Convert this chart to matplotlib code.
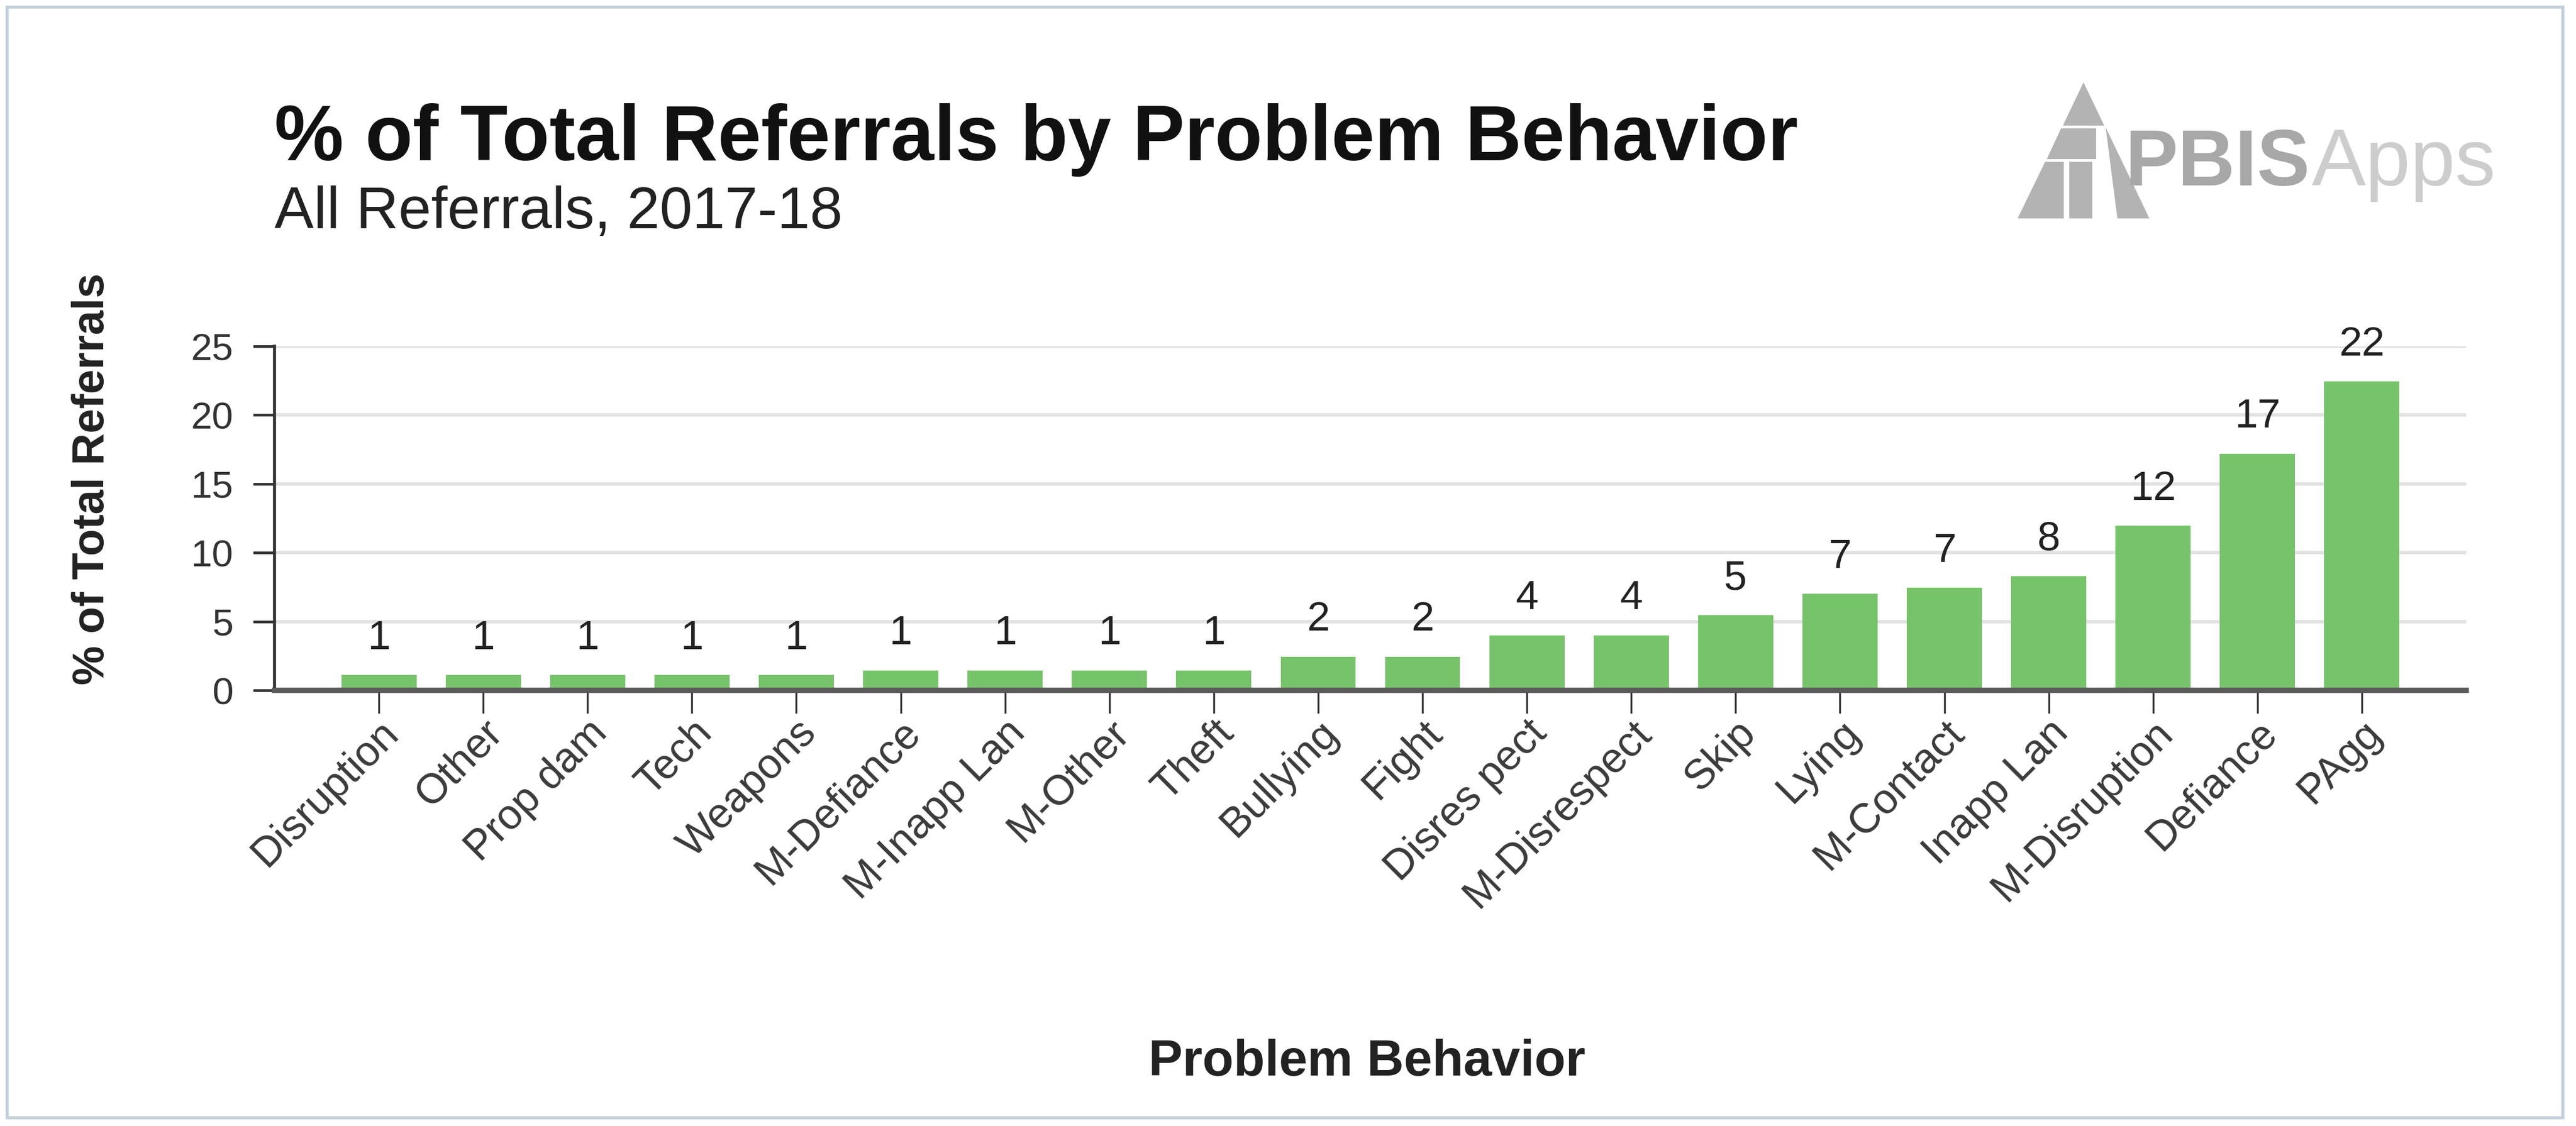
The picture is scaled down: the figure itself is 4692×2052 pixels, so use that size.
import matplotlib
matplotlib.use("Agg")
import matplotlib.pyplot as plt
from matplotlib.patches import Polygon, Rectangle

plt.rcParams["font.family"] = ["Liberation Sans", "DejaVu Sans"]

# Problem behaviors, sorted by share of referrals
behaviors = ["Disruption", "Other", "Prop dam", "Tech", "Weapons", "M-Defiance",
             "M-Inapp Lan", "M-Other", "Theft", "Bullying", "Fight", "Disres pect",
             "M-Disrespect", "Skip", "Lying", "M-Contact", "Inapp Lan",
             "M-Disruption", "Defiance", "PAgg"]
pct_referrals = [1.1, 1.1, 1.1, 1.1, 1.1, 1.45, 1.45, 1.45, 1.45, 2.45, 2.45,
                 4.0, 4.0, 5.45, 7.0, 7.45, 8.3, 11.95, 17.2, 22.45]
y_ticks = [0, 5, 10, 15, 20, 25]

W, H = 4692, 2052
fig = plt.figure(figsize=(W / 100, H / 100), dpi=100)
fig.patch.set_facecolor("white")


def fx(px):
    return px / W


def fy(py):
    return 1 - py / H


# outer frame
fig.add_artist(Rectangle((fx(13), fy(2037)), fx(4668) - fx(13), fy(13) - fy(2037),
                         transform=fig.transFigure, facecolor="none",
                         edgecolor="#c3cfdb", lw=4))

ax = fig.add_axes([fx(500), fy(1258), fx(4492) - fx(500), fy(631) - fy(1258)])
x = list(range(len(behaviors)))
ax.bar(x, pct_referrals, width=0.72, color="#77c36b", zorder=3)
ax.set_xlim(-1, len(behaviors))
ax.set_ylim(0, 25)

ax.set_yticks(y_ticks)
ax.set_yticklabels([str(t) for t in y_ticks])
ax.set_xticks(x)
ax.set_xticklabels(behaviors, rotation=45, ha="right", va="top",
                   rotation_mode="anchor", fontsize=55, color="#3a3a3a")

ax.yaxis.grid(True, color="#e2e2e2", lw=4.5, zorder=0)
ax.set_axisbelow(True)
for s in ("top", "right"):
    ax.spines[s].set_visible(False)
ax.spines["left"].set_color("#333333")
ax.spines["left"].set_linewidth(4)
ax.spines["bottom"].set_color("#5a5a5a")
ax.spines["bottom"].set_linewidth(7)
ax.spines["bottom"].set_zorder(4)

ax.tick_params(axis="y", length=28, width=3.5, color="#333333", pad=26,
               labelsize=50, labelcolor="#333333")
ax.tick_params(axis="x", length=30, width=2.5, color="#333333", pad=0)

# value labels above the bars
for xi, v in zip(x, pct_referrals):
    ax.annotate(f"{v:.0f}", (xi, v), xytext=(0, 34), textcoords="offset points",
                ha="center", va="baseline", fontsize=54, color="#222222",
                annotation_clip=False)

# titles and axis labels
fig.text(fx(500), fy(292), "% of Total Referrals by Problem Behavior",
         fontsize=102, fontweight="bold", color="#111111", va="baseline")
fig.text(fx(500), fy(416), "All Referrals, 2017-18", fontsize=77,
         color="#222222", va="baseline")
fig.text(fx(2490), fy(1960), "Problem Behavior", fontsize=67, fontweight="bold",
         color="#222222", ha="center", va="baseline")
fig.text(fx(168), fy(873), "% of Total Referrals", fontsize=58, fontweight="bold",
         color="#222222", ha="center", va="center", rotation=90)

# PBISApps mark
lx0, lx1, ly0, ly1 = 3675, 3915, 398, 150


def logo_pt(u, v):
    return (fx(lx0 + u * (lx1 - lx0)), fy(ly0 - v * (ly0 - ly1)))


logo_shapes = [
    [(0.5, 1.0), (0.657, 0.682), (0.343, 0.682)],
    [(0.33, 0.662), (0.595, 0.662), (0.595, 0.437), (0.219, 0.437)],
    [(0.208, 0.417), (0.351, 0.417), (0.351, 0.0), (0.0, 0.0)],
    [(0.392, 0.417), (0.568, 0.417), (0.568, 0.0), (0.392, 0.0)],
    [(0.668, 0.669), (1.0, 0.0), (0.757, 0.0)],
]
for shp in logo_shapes:
    fig.add_artist(Polygon([logo_pt(u, v) for u, v in shp], closed=True,
                           transform=fig.transFigure, facecolor="#b3b3b3",
                           edgecolor="none"))

t1 = fig.text(fx(3870), fy(338), "PBIS", fontsize=104, fontweight="bold",
              color="#a8a8a8", va="baseline")
fig.canvas.draw()
bb = t1.get_window_extent(renderer=fig.canvas.get_renderer())
fig.text(bb.x1 / W + fx(4), fy(338), "Apps", fontsize=106, color="#cdcdcd",
         va="baseline")

fig.savefig("out.png", dpi=100, facecolor="white")
